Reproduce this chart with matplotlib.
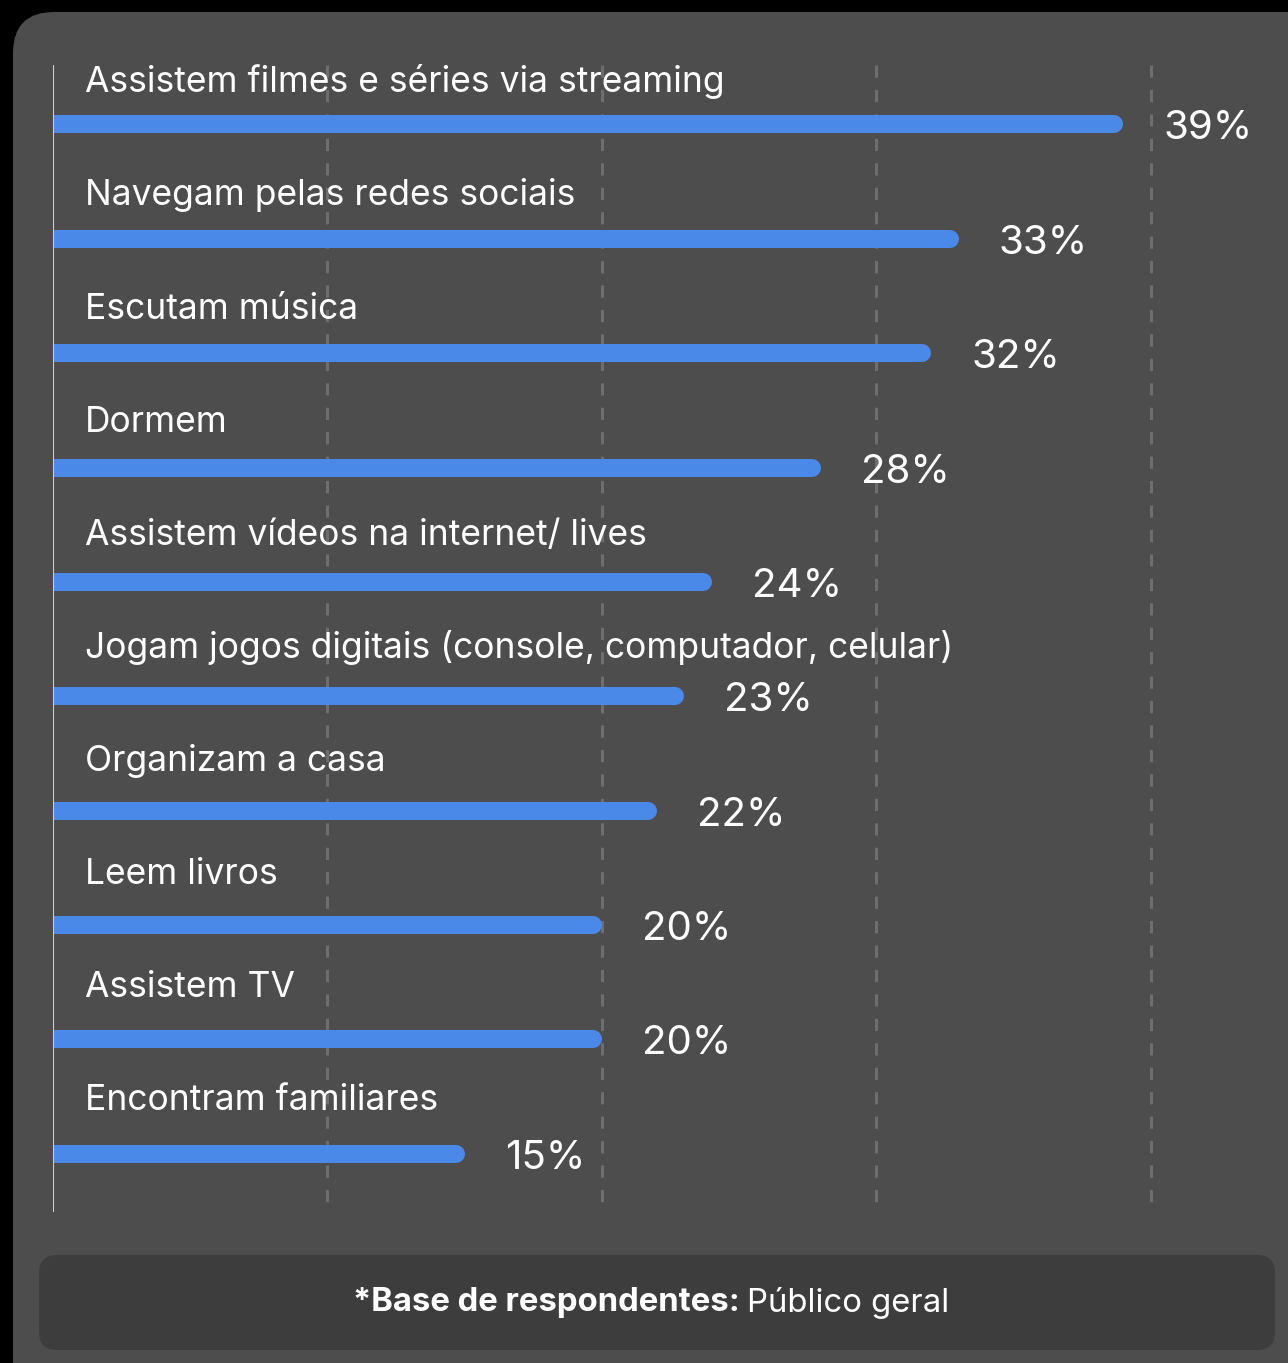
import matplotlib.pyplot as plt
from matplotlib.patches import FancyBboxPatch

# atividades e percentuais (público geral)
atividades = [
    "Assistem filmes e séries via streaming",
    "Navegam pelas redes sociais",
    "Escutam música",
    "Dormem",
    "Assistem vídeos na internet/ lives",
    "Jogam jogos digitais (console, computador, celular)",
    "Organizam a casa",
    "Leem livros",
    "Assistem TV",
    "Encontram familiares",
]
percentuais = [39, 33, 32, 28, 24, 23, 22, 20, 20, 15]
grade_x = [10, 20, 30, 40]

plt.rcParams['font.family'] = ['Inter', 'DejaVu Sans']

W, H = 1288, 1363
PT = 0.72  # pontos por pixel a 100 dpi
fig = plt.figure(figsize=(W / 100, H / 100), dpi=100)
fig.patch.set_facecolor("#000000")

# painel cinza arredondado
painel = FancyBboxPatch((13 / W, -0.05), 1.2, 1 - 12 / H + 0.05,
                        boxstyle="round,pad=0,rounding_size=0.032",
                        transform=fig.transFigure, facecolor="#4d4d4d",
                        edgecolor="none", mutation_aspect=W / H, zorder=-2)
fig.patches.append(painel)

# caixa do rodapé
rodape = FancyBboxPatch((39 / W, 1 - 1350 / H), (1275 - 39) / W, 95 / H,
                        boxstyle="round,pad=0,rounding_size=0.014",
                        transform=fig.transFigure, facecolor="#3d3d3d",
                        edgecolor="none", mutation_aspect=W / H, zorder=-1)
fig.patches.append(rodape)

ax = fig.add_axes([53 / W, 1 - 1212 / H, 1 - 53 / W, (1212 - 65) / H])
ax.set_facecolor("none")
ax.set_zorder(2)
ax.set_xlim(0, 45)
ax.set_ylim(9.51, -0.52)

for gx in grade_x:
    ax.plot([gx, gx], [-0.52, 9.45], color="#6e6e6e", lw=2.2,
            linestyle=(0, (4, 4)), zorder=1)

ax.axvline(0, color="#cfcfcf", lw=1.5, zorder=3)

# barras com a ponta direita arredondada
lw_pt = 18 * PT
px_por_pct = (W - 53) / 45
for i, (nome, v) in enumerate(zip(atividades, percentuais)):
    fim = v - 9 / px_por_pct
    ax.plot([-2, fim], [i, i], color="#4a89e8", lw=lw_pt,
            solid_capstyle="round", zorder=2)
    # rótulos da categoria acima da barra (espaçamento levemente menor)
    ax.annotate(nome, xy=(0, i), xytext=(32 * PT, (32 + 1.33 * i) * PT),
                textcoords="offset points", color="white", fontsize=25.5,
                va="baseline", ha="left")
    ax.annotate(f"{v}%", xy=(v, i), xytext=(40 * PT, -15 * PT),
                textcoords="offset points", color="white", fontsize=29,
                va="baseline", ha="left")

for s in ax.spines.values():
    s.set_visible(False)
ax.set_xticks([])
ax.set_yticks([])

fig.text(740 / W, 1 - 1303 / H, "*Base de respondentes:", color="white",
         fontsize=23.7, fontweight="bold", ha="right", va="center")
fig.text(747 / W, 1 - 1303 / H, "Público geral", color="white",
         fontsize=23.7, ha="left", va="center")

fig.savefig("out.png", dpi=100, facecolor=fig.get_facecolor())
